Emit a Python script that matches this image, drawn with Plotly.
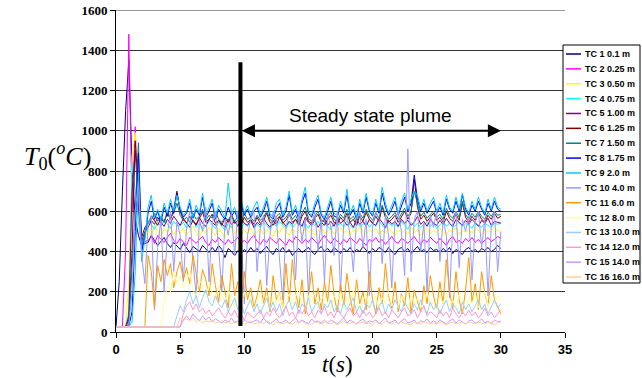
import plotly.graph_objects as go

# time grid (s), 0.25 s sampling, 0..30 s
t = [i * 0.25 for i in range(121)]

names = ["TC 1 0.1 m", "TC 2 0.25 m", "TC 3 0.50 m", "TC 4 0.75 m", "TC 5 1.00 m",
         "TC 6 1.25 m", "TC 7 1.50 m", "TC 8 1.75 m", "TC 9 2.0 m", "TC 10 4.0 m",
         "TC 11 6.0 m", "TC 12 8.0 m", "TC 13 10.0 m", "TC 14 12.0 m", "TC 15 14.0 m",
         "TC 16 16.0 m"]

tc1 = [25, 250, 700, 1100, 1350, 820, 560, 480, 430, 440, 445,
       480, 455, 430, 450, 470, 440, 420, 445, 430, 410, 440,
       420, 395, 425, 410, 400, 430, 415, 395, 420, 400, 430,
       410, 370, 415, 400, 380, 405, 390, 410, 395, 420, 400,
       415, 390, 410, 425, 400, 385, 415, 400, 420, 395, 410,
       380, 400, 415, 395, 410, 420, 400, 385, 410, 425, 400,
       415, 395, 420, 405, 390, 415, 400, 420, 395, 410, 400,
       425, 405, 390, 415, 400, 420, 410, 395, 420, 400, 385,
       410, 420, 400, 415, 390, 410, 425, 400, 410, 395, 420,
       405, 410, 395, 415, 400, 420, 390, 410, 400, 385, 410,
       420, 400, 410, 395, 415, 405, 420, 400, 410, 430, 415]
tc2 = [25, 25, 30, 400, 1480, 600, 1020, 560, 420, 450, 455,
       475, 440, 480, 460, 445, 470, 490, 455, 440, 465, 450,
       430, 470, 455, 440, 460, 475, 445, 430, 460, 445, 470,
       450, 435, 460, 440, 455, 470, 445, 455, 440, 465, 480,
       450, 435, 460, 445, 470, 455, 440, 465, 450, 430, 460,
       445, 475, 455, 440, 460, 445, 470, 450, 435, 460, 480,
       455, 440, 465, 450, 435, 460, 445, 470, 455, 440, 465,
       450, 430, 460, 450, 470, 445, 460, 435, 455, 475, 450,
       440, 465, 455, 440, 460, 475, 450, 435, 460, 445, 470,
       455, 440, 465, 450, 430, 460, 475, 445, 455, 440, 465,
       450, 470, 445, 460, 440, 455, 470, 450, 460, 475, 465]
tc3 = [25, 25, 25, 30, 250, 870, 990, 560, 450, 470, 510,
       480, 530, 500, 470, 515, 495, 520, 485, 505, 490, 515,
       480, 505, 525, 495, 470, 510, 490, 520, 500, 480, 515,
       495, 470, 505, 525, 490, 510, 485, 505, 490, 520, 480,
       500, 515, 485, 510, 495, 475, 510, 490, 525, 500, 480,
       515, 495, 505, 485, 520, 495, 510, 480, 500, 525, 490,
       505, 515, 485, 500, 520, 490, 505, 480, 510, 495, 525,
       500, 485, 510, 495, 515, 485, 505, 490, 520, 500, 480,
       510, 495, 505, 485, 520, 495, 510, 480, 500, 515, 490,
       505, 495, 515, 500, 480, 510, 495, 520, 485, 505, 495,
       510, 490, 520, 500, 485, 510, 495, 505, 520, 500, 510]
tc4 = [25, 25, 25, 25, 100, 840, 700, 580, 430, 480, 555,
       530, 510, 545, 525, 560, 535, 515, 550, 530, 525, 545,
       515, 535, 560, 520, 540, 510, 530, 550, 535, 515, 545,
       525, 505, 540, 520, 555, 530, 515, 540, 525, 555, 515,
       535, 520, 545, 530, 510, 540, 525, 550, 530, 515, 545,
       520, 535, 560, 525, 540, 515, 545, 530, 550, 520, 540,
       525, 510, 545, 530, 540, 520, 555, 530, 515, 545, 525,
       535, 550, 520, 540, 525, 555, 530, 515, 545, 525, 540,
       520, 550, 530, 510, 545, 525, 540, 520, 535, 545, 525,
       540, 515, 535, 550, 525, 540, 520, 530, 545, 525, 540,
       530, 515, 545, 530, 520, 540, 530, 520, 540, 535, 545]
tc5 = [25, 25, 25, 25, 80, 700, 900, 620, 450, 500, 520,
       555, 535, 570, 545, 525, 560, 540, 575, 550, 530, 565,
       545, 520, 555, 535, 570, 540, 525, 560, 545, 530, 555,
       540, 520, 560, 535, 550, 525, 565, 540, 530, 555, 520,
       545, 530, 565, 540, 520, 555, 535, 570, 545, 525, 550,
       535, 560, 540, 525, 570, 545, 530, 555, 520, 545, 560,
       530, 550, 525, 565, 540, 555, 530, 545, 520, 560, 535,
       550, 525, 560, 540, 530, 565, 545, 520, 555, 535, 550,
       525, 560, 540, 555, 530, 545, 575, 535, 550, 525, 560,
       540, 530, 555, 535, 565, 540, 525, 560, 545, 530, 555,
       535, 560, 540, 525, 555, 540, 565, 530, 550, 545, 540]
tc6 = [25, 25, 25, 25, 60, 400, 950, 700, 470, 520, 540,
       575, 550, 530, 565, 545, 590, 560, 610, 700, 600, 560,
       540, 575, 550, 530, 565, 595, 545, 560, 585, 540, 555,
       530, 565, 545, 580, 540, 555, 530, 570, 545, 560, 535,
       570, 540, 555, 590, 545, 530, 560, 575, 540, 555, 585,
       545, 560, 530, 575, 600, 550, 540, 565, 585, 545, 530,
       560, 580, 545, 535, 570, 550, 590, 545, 560, 530, 575,
       550, 595, 560, 540, 575, 550, 620, 570, 545, 560, 580,
       545, 570, 600, 560, 590, 760, 620, 560, 580, 550, 570,
       590, 555, 570, 545, 600, 565, 550, 585, 555, 640, 570,
       545, 575, 555, 590, 560, 545, 580, 560, 590, 565, 575]
tc7 = [25, 25, 25, 25, 40, 300, 600, 940, 420, 490, 545,
       560, 590, 550, 575, 545, 600, 565, 590, 640, 580, 555,
       570, 545, 590, 560, 575, 610, 555, 580, 565, 600, 560,
       545, 570, 555, 585, 550, 575, 545, 590, 560, 570, 550,
       580, 555, 570, 600, 560, 545, 575, 590, 555, 570, 595,
       560, 580, 545, 590, 620, 565, 550, 575, 600, 560, 545,
       575, 595, 560, 550, 585, 565, 610, 560, 575, 545, 590,
       565, 610, 575, 555, 590, 565, 630, 585, 560, 575, 595,
       560, 585, 615, 575, 600, 700, 630, 575, 595, 565, 585,
       600, 570, 585, 560, 615, 580, 565, 600, 570, 650, 585,
       560, 590, 570, 600, 575, 560, 595, 575, 600, 580, 585]
tc8 = [25, 25, 25, 25, 30, 100, 500, 890, 400, 470, 590,
       650, 560, 600, 545, 620, 575, 640, 590, 690, 610, 570,
       590, 640, 565, 610, 580, 670, 570, 600, 640, 560, 610,
       580, 560, 620, 575, 600, 560, 640, 580, 610, 570, 600,
       620, 570, 600, 650, 575, 560, 610, 640, 570, 600, 680,
       580, 610, 560, 640, 690, 590, 570, 620, 660, 580, 560,
       600, 650, 575, 570, 630, 590, 680, 580, 610, 560, 640,
       590, 670, 600, 575, 640, 590, 690, 620, 580, 610, 650,
       580, 630, 670, 600, 640, 780, 660, 600, 640, 590, 620,
       650, 590, 620, 580, 660, 610, 590, 650, 600, 680, 610,
       580, 630, 600, 650, 610, 580, 640, 600, 650, 610, 600]
tc9 = [25, 25, 25, 25, 25, 50, 300, 790, 350, 460, 620,
       680, 570, 610, 560, 640, 590, 660, 600, 680, 620, 580,
       600, 660, 570, 630, 590, 690, 580, 620, 660, 570, 630,
       600, 570, 740, 590, 620, 560, 660, 590, 630, 580, 620,
       650, 580, 620, 670, 590, 570, 640, 660, 580, 620, 700,
       590, 630, 570, 660, 720, 600, 580, 640, 680, 590, 570,
       620, 670, 590, 580, 650, 600, 710, 590, 630, 570, 660,
       600, 690, 610, 580, 660, 600, 720, 640, 590, 630, 670,
       590, 650, 690, 610, 660, 700, 680, 610, 660, 600, 640,
       670, 600, 640, 590, 680, 620, 600, 670, 610, 690, 620,
       590, 650, 610, 670, 620, 590, 660, 610, 670, 620, 610]
tc10 = [25, 25, 25, 25, 30, 200, 600, 750, 380, 240, 540,
        580, 110, 420, 560, 200, 480, 600, 300, 550, 480, 250,
        520, 600, 350, 180, 560, 500, 620, 250, 540, 600, 420,
        200, 560, 480, 590, 380, 600, 520, 140, 480, 560, 600,
        300, 520, 580, 230, 480, 600, 560, 380, 160, 520, 590,
        540, 260, 600, 450, 560, 180, 520, 600, 400, 560, 250,
        590, 520, 380, 600, 200, 540, 580, 480, 300, 560, 600,
        420, 560, 180, 520, 600, 560, 340, 580, 480, 220, 560,
        600, 500, 280, 910, 300, 560, 600, 400, 540, 200, 580,
        520, 600, 350, 560, 480, 170, 540, 600, 320, 560, 500,
        580, 260, 540, 600, 420, 560, 180, 520, 600, 300, 500]
tc11 = [25, 25, 25, 25, 25, 25, 25, 25, 25, 25, 380,
        300, 120, 330, 250, 360, 280, 340, 220, 300, 350, 260,
        320, 240, 380, 290, 200, 310, 260, 180, 340, 230, 150,
        280, 200, 120, 340, 180, 250, 140, 300, 160, 220, 120,
        180, 260, 140, 220, 100, 280, 160, 200, 120, 340, 150,
        360, 200, 120, 260, 90, 180, 300, 140, 220, 110, 250,
        150, 330, 180, 100, 240, 130, 290, 170, 90, 260, 140,
        200, 110, 300, 160, 90, 220, 140, 340, 180, 120, 250,
        100, 190, 130, 270, 90, 210, 150, 100, 230, 140, 280,
        180, 110, 250, 140, 360, 200, 120, 300, 160, 90, 210,
        370, 150, 240, 110, 300, 190, 130, 280, 160, 120, 90]
tc12 = [25, 25, 25, 25, 25, 25, 25, 25, 25, 25, 25,
        25, 25, 25, 25, 150, 230, 200, 300, 240, 280, 220,
        250, 300, 210, 180, 260, 230, 170, 240, 200, 150, 230,
        180, 140, 210, 160, 120, 190, 150, 200, 130, 170, 110,
        160, 200, 130, 180, 110, 170, 140, 210, 120, 160, 190,
        130, 170, 220, 140, 110, 180, 150, 200, 120, 160, 190,
        140, 110, 180, 150, 200, 120, 170, 130, 210, 140, 100,
        160, 190, 120, 150, 180, 110, 170, 140, 200, 130, 160,
        120, 180, 150, 110, 190, 140, 170, 120, 160, 200, 130,
        150, 110, 180, 140, 200, 130, 160, 120, 190, 150, 110,
        170, 140, 190, 120, 160, 200, 130, 170, 140, 180, 150]
tc13 = [25, 25, 25, 25, 25, 25, 25, 25, 25, 25, 25,
        25, 25, 25, 25, 25, 25, 25, 25, 80, 130, 100,
        160, 200, 140, 180, 120, 170, 210, 150, 130, 180, 140,
        120, 160, 100, 140, 170, 110, 150, 90, 130, 160, 100,
        140, 90, 130, 170, 110, 150, 100, 140, 80, 130, 160,
        110, 150, 90, 140, 120, 170, 100, 130, 150, 90, 140,
        120, 160, 100, 130, 90, 150, 110, 140, 170, 100, 130,
        90, 140, 120, 160, 100, 130, 150, 90, 140, 110, 160,
        130, 100, 150, 120, 90, 140, 110, 160, 120, 90, 150,
        110, 140, 90, 130, 160, 100, 140, 120, 90, 150, 110,
        140, 100, 130, 160, 110, 140, 90, 130, 160, 120, 140]
tc14 = [25, 25, 25, 25, 25, 25, 25, 25, 25, 25, 25,
        25, 25, 25, 25, 25, 25, 25, 25, 25, 25, 90,
        130, 150, 110, 140, 100, 120, 90, 110, 80, 100, 120,
        90, 70, 100, 80, 110, 70, 90, 60, 100, 80, 70,
        90, 110, 70, 100, 80, 120, 90, 70, 100, 130, 80,
        100, 70, 110, 90, 120, 80, 100, 70, 110, 90, 130,
        80, 100, 70, 110, 90, 70, 100, 120, 80, 100, 70,
        110, 80, 100, 70, 90, 120, 80, 100, 70, 110, 90,
        70, 100, 120, 80, 90, 110, 70, 100, 130, 80, 100,
        90, 70, 110, 80, 100, 70, 120, 90, 70, 100, 80,
        110, 80, 100, 70, 90, 120, 80, 100, 70, 90, 110]
tc15 = [25, 25, 25, 25, 25, 25, 25, 25, 25, 25, 25,
        25, 25, 25, 25, 25, 25, 25, 25, 25, 25, 60,
        80, 60, 90, 70, 55, 80, 60, 75, 50, 65, 55,
        45, 60, 50, 70, 45, 55, 40, 60, 50, 45, 55,
        60, 45, 70, 50, 40, 55, 65, 45, 50, 60, 40,
        55, 70, 45, 60, 50, 40, 65, 50, 55, 45, 60,
        45, 60, 50, 40, 55, 70, 45, 60, 50, 40, 55,
        65, 45, 55, 50, 60, 40, 55, 70, 45, 50, 60,
        40, 55, 65, 45, 50, 60, 40, 55, 50, 65, 45,
        55, 45, 60, 50, 40, 55, 65, 45, 60, 50, 40,
        55, 60, 45, 50, 65, 45, 55, 40, 60, 50, 55]
tc16 = [25, 25, 25, 25, 25, 25, 25, 25, 25, 25, 25,
        25, 25, 25, 25, 25, 25, 25, 25, 25, 70, 60,
        65, 55, 70, 50, 60, 45, 55, 50, 60, 45, 50,
        55, 45, 50, 40, 55, 45, 50, 40, 45, 55, 40,
        45, 50, 40, 55, 45, 35, 50, 45, 40, 50, 45,
        40, 50, 45, 55, 40, 45, 35, 50, 45, 40, 50,
        45, 40, 50, 35, 45, 55, 40, 45, 50, 40, 45,
        50, 40, 45, 35, 50, 45, 40, 55, 45, 40, 50,
        40, 50, 45, 40, 35, 50, 45, 40, 50, 45, 40,
        45, 40, 50, 45, 35, 45, 50, 40, 45, 50, 40,
        50, 45, 40, 50, 45, 40, 50, 45, 35, 45, 50]

series = [tc1, tc2, tc3, tc4, tc5, tc6, tc7, tc8, tc9, tc10, tc11, tc12, tc13, tc14, tc15, tc16]

colors = ["#000080", "#FF00FF", "#FFFF00", "#00FFFF", "#800080", "#800000", "#008080", "#0000FF",
          "#00CCFF", "#9999FF", "#FF9900", "#FFFF99", "#99CCFF", "#FF99CC", "#CC99FF", "#FFCC99"]

x_ticks = [0, 5, 10, 15, 20, 25, 30, 35]
y_ticks = [0, 200, 400, 600, 800, 1000, 1200, 1400, 1600]

steady_start = 9.7
steady_end = 30
steady_level = 1000
bar_top = 1340
bar_bottom = 30

W, H = 642, 378
ML, MR, MT, MB = 116, 77, 10, 46
PW, PH = W - ML - MR, H - MT - MB


def px(xp):
    return (xp - ML) / PW


def py(yp):
    return (H - MB - yp) / PH


fig = go.Figure()
for name, ys, c in zip(names, series, colors):
    fig.add_trace(go.Scatter(x=t, y=ys, mode="lines", name=name,
                             line=dict(color=c, width=1), showlegend=False, hoverinfo="skip"))

shapes = []
annotations = []

# top gridline (at the range edge)
shapes.append(dict(type="line", xref="paper", yref="y", x0=0, x1=1, y0=y_ticks[-1], y1=y_ticks[-1],
                   line=dict(color="#333333", width=1), layer="below"))

# steady-state marker bar
shapes.append(dict(type="line", xref="x", yref="y", x0=steady_start, x1=steady_start,
                   y0=bar_bottom, y1=bar_top, line=dict(color="black", width=4)))

# double arrow
annotations.append(dict(x=steady_end, y=steady_level, ax=steady_start, ay=steady_level,
                        xref="x", yref="y", axref="x", ayref="y", text="",
                        showarrow=True, arrowhead=2, startarrowhead=2, arrowside="end+start",
                        arrowsize=1.3, startarrowsize=1.3, arrowwidth=2, arrowcolor="black",
                        standoff=0, startstandoff=0))
annotations.append(dict(x=19.8, y=1078, xref="x", yref="y", text="Steady state plume",
                        xanchor="center", yanchor="middle",
                        showarrow=False, font=dict(family="Liberation Sans", size=19, color="black")))

# axis titles
annotations.append(dict(x=px(58), y=py(156), xref="paper", yref="paper",
                        xanchor="center", yanchor="middle",
                        text="<i>T</i><sub>0</sub>(<sup><i>o</i></sup><i>C</i>)",
                        showarrow=False, font=dict(family="Liberation Serif", size=26, color="black")))
annotations.append(dict(x=px(337), y=py(364), xref="paper", yref="paper",
                        xanchor="center", yanchor="middle",
                        text="<i>t</i>(<i>s</i>)",
                        showarrow=False, font=dict(family="Liberation Serif", size=23, color="black")))

# legend box (manual)
shapes.append(dict(type="rect", xref="paper", yref="paper", x0=px(563), x1=px(640),
                   y0=py(283), y1=py(45), line=dict(color="black", width=1), fillcolor="white",
                   layer="above"))
for i, (name, c) in enumerate(zip(names, colors)):
    yc = 54 + i * 14.87
    shapes.append(dict(type="line", xref="paper", yref="paper", x0=px(566), x1=px(581),
                       y0=py(yc), y1=py(yc), line=dict(color=c, width=1.5), layer="above"))
    annotations.append(dict(x=px(583), y=py(yc), xref="paper", yref="paper", text="<b>" + name + "</b>",
                            xanchor="left", yanchor="middle", showarrow=False,
                            font=dict(family="Liberation Sans", size=9, color="black")))

fig.update_layout(
    width=W, height=H,
    margin=dict(l=ML, r=MR, t=MT, b=MB, autoexpand=False),
    paper_bgcolor="white", plot_bgcolor="white",
    showlegend=False, hovermode=False,
    shapes=shapes, annotations=annotations,
    xaxis=dict(range=[0, 35], tickvals=x_ticks, ticktext=[str(v) for v in x_ticks],
               showgrid=False, zeroline=False, showline=True, linecolor="black", linewidth=1,
               ticks="outside", ticklen=5, tickcolor="black", automargin=False,
               ticklabeloverflow="allow",
               tickfont=dict(family="Liberation Sans", size=13, color="black", weight="bold")),
    yaxis=dict(range=[0, 1600], tickvals=y_ticks, ticktext=[str(v) for v in y_ticks],
               showgrid=True, gridcolor="#333333", gridwidth=1, zeroline=False,
               showline=True, linecolor="black", linewidth=1,
               ticks="outside", ticklen=5, tickcolor="black", automargin=False,
               ticklabeloverflow="allow",
               tickfont=dict(family="Liberation Serif", size=13, color="black", weight="bold")),
)

fig.write_html("out.html", config={"displayModeBar": False},
               post_script="document.body.style.margin='0';")
